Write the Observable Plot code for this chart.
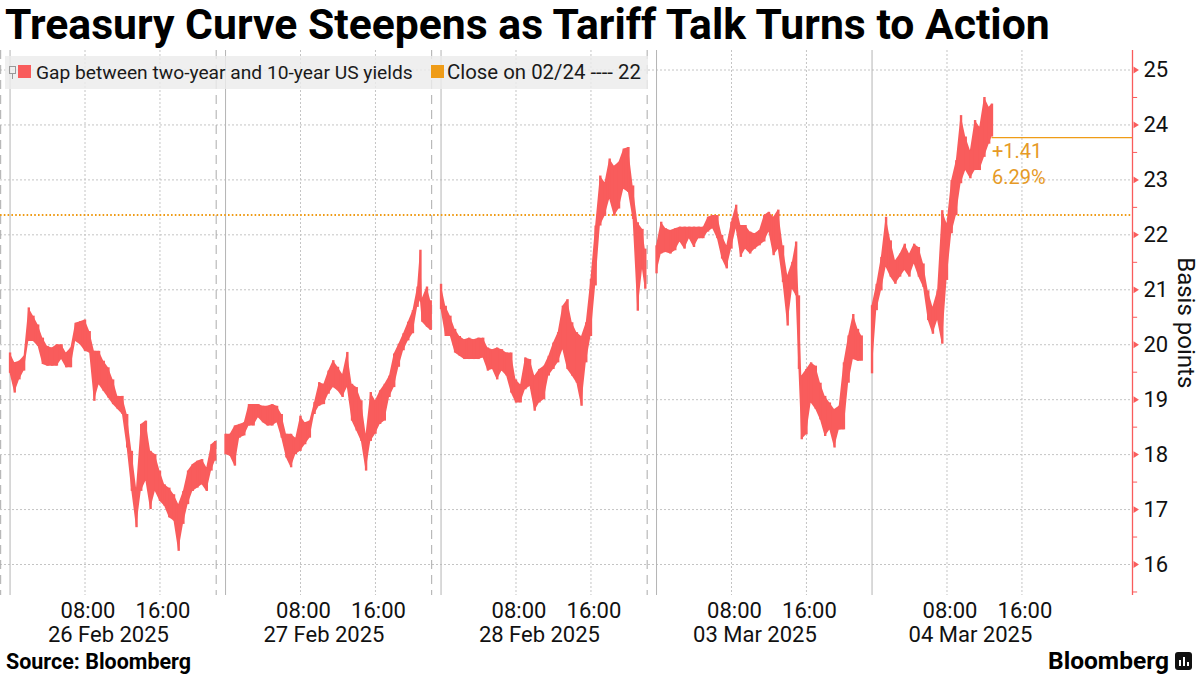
<!DOCTYPE html>
<html>
<head>
<meta charset="utf-8">
<script src="https://cdn.jsdelivr.net/npm/d3@7"></script>
<script src="https://cdn.jsdelivr.net/npm/@observablehq/plot@0.6"></script>
<style>
  html, body { margin: 0; padding: 0; background: #fff; }
  body { width: 1200px; height: 675px; overflow: hidden; position: relative; font-family: Roboto, "Noto Sans", sans-serif; color: #000; }
  .fit { display: inline-block; white-space: nowrap; }
  #title { position: absolute; left: 5px; top: 0px; line-height: 48px; font-weight: bold; font-size: 36px; }
  #chart { position: absolute; left: 0; top: 50px; }
  #legend { position: absolute; left: 5px; top: 56px; width: 643px; height: 33px; background: rgba(236,236,236,0.82); }
  #legend .sq { position: absolute; top: 9px; width: 13px; height: 13px; }
  #legend .txt { position: absolute; top: 0; line-height: 33px; font-size: 18px; color: #1a1a1a; }
  #legend .icon { position: absolute; left: 4px; top: 10px; width: 5px; height: 6px; border: 1px solid #999; }
  #legend .icon2 { position: absolute; left: 7px; top: 17px; width: 1px; height: 6px; background: #999; }
  #source { position: absolute; left: 6px; top: 651px; line-height: 22px; font-weight: bold; font-size: 17px; }
  #logo { position: absolute; left: 1048px; top: 647px; line-height: 28px; font-weight: bold; font-size: 24px; }
  #logoicon { position: absolute; left: 1175px; top: 652px; width: 17px; height: 18px; background: #111; border-radius: 3px; }
  #logoicon i { position: absolute; bottom: 4px; width: 2px; background: #fff; }
</style>
</head>
<body>
<div id="title" class="fit">Treasury Curve Steepens as Tariff Talk Turns to Action</div>
<div id="chart"></div>
<div id="legend">
  <span class="icon"></span><span class="icon2"></span>
  <span class="sq" style="left:13px;background:#f95c5c"></span>
  <span class="txt fit" id="leg1" style="left:31px">Gap between two-year and 10-year US yields</span>
  <span class="sq" style="left:426px;background:#ef9c17"></span>
  <span class="txt fit" id="leg2" style="left:442px">Close on 02/24 ---- 22</span>
</div>
<div id="source" class="fit">Source: Bloomberg</div>
<div id="logo" class="fit">Bloomberg</div>
<div id="logoicon"><i style="left:4px;height:6px"></i><i style="left:8px;height:9px"></i><i style="left:12px;height:4px"></i></div>

<script>
// ---- Data ----
// Each session: [London hour of day, low, high] of the 2s10s gap in basis points
const feb26 = [
  [0,19.48,19.85],[0.5,19.12,19.67],[1,19.36,19.70],[1.5,19.52,19.79],[2,20.06,20.67],[2.5,20.06,20.52],
  [3,19.97,20.36],[3.5,19.64,20.12],[4,19.61,19.97],[4.5,19.61,19.94],[5,19.61,20.0],[5.5,19.73,20.0],
  [6,19.58,19.85],[6.5,19.58,19.94],[7,20.06,20.39],[7.5,20.0,20.42],[8,19.88,20.45],[8.5,19.85,20.24],
  [9,18.97,19.88],[9.5,19.27,19.88],[10,19.15,19.70],[10.5,19.03,19.58],[11,18.91,19.36],[11.5,18.82,19.06],
  [12,18.73,19.06],[12.5,18.12,18.73],[13,17.33,18.06],[13.5,16.67,17.39],[14,17.33,18.55],[14.5,17.52,18.61],
  [15,17.0,18.06],[15.5,17.33,18.0],[16,17.15,17.70],[16.5,17.06,17.45],[17,16.85,17.39],[17.5,16.79,17.27],
  [18,16.24,17.09],[18.5,16.73,17.33],[19,17.09,17.70],[19.5,17.33,17.82],[20,17.39,17.88],[20.5,17.45,17.91],
  [21,17.33,17.76],[21.5,17.70,18.18],[21.9,17.88,18.24]
];
const feb27 = [
  [0,18.0,18.37],[0.5,17.97,18.37],[1,17.79,18.52],[1.5,18.30,18.55],[2,18.34,18.58],[2.5,18.52,18.91],
  [3,18.52,18.91],[3.5,18.67,18.91],[4,18.58,18.88],[4.5,18.52,18.88],[5,18.52,18.91],[5.5,18.58,18.88],
  [6,18.30,18.73],[6.5,17.94,18.37],[7,17.76,18.37],[7.5,18.0,18.30],[8,18.06,18.70],[8.5,18.18,18.58],
  [9,18.30,18.61],[9.5,18.73,18.95],[10,18.88,19.31],[10.5,18.91,19.28],[11,19.10,19.52],[11.5,19.22,19.71],
  [12,19.16,19.59],[12.5,19.04,19.46],[13,19.22,19.86],[13.5,18.61,19.28],[14,18.43,19.22],[14.5,18.24,18.98],
  [15,17.70,18.37],[15.5,18.24,19.13],[16,18.37,18.98],[16.5,18.55,19.16],[17,18.61,19.28],[17.5,19.04,19.43],
  [18,19.22,19.83],[18.5,19.59,20.01],[19,19.89,20.20],[19.5,20.07,20.41],[20,20.20,20.62],[20.5,20.68,21.05],
  [20.8,20.80,21.72],[21,20.41,20.84],[21.5,20.32,21.05],[21.9,20.26,20.80]
];
const feb28 = [
  [0,20.64,21.10],[0.5,20.15,20.70],[1,20.15,20.52],[1.5,19.85,20.28],[2,19.79,20.15],[2.5,19.73,20.09],
  [3,19.73,20.12],[3.5,19.73,20.09],[4,19.73,20.12],[4.5,19.76,20.12],[5,19.52,19.94],[5.5,19.55,19.91],
  [6,19.36,19.94],[6.5,19.52,19.91],[7,19.43,19.85],[7.5,19.12,19.85],[8,18.94,19.36],[8.5,18.94,19.27],
  [9,19.18,19.76],[9.5,19.24,19.73],[10,18.79,19.43],[10.5,18.94,19.55],[11,19.0,19.61],[11.5,19.43,19.79],
  [12,19.55,20.03],[12.5,19.67,20.22],[13,19.91,20.70],[13.5,19.55,20.82],[14,19.43,20.40],[14.5,19.30,20.22],
  [15,18.88,20.15],[15.5,19.67,20.40],[16,20.15,21.19],[16.5,21.07,22.16],[17,22.16,23.07],[17.5,22.34,22.95],
  [18,22.65,23.38],[18.5,22.34,23.25],[19,22.47,23.32],[19.5,22.83,23.56],[20,22.77,23.59],[20.5,22.28,22.89],
  [21,20.61,22.22],[21.5,21.37,22.10],[21.8,21.01,21.74]
];
const mar03 = [
  [0,21.29,21.80],[0.5,21.65,22.23],[1,21.68,22.11],[1.5,21.65,22.08],[2,21.71,22.11],[2.5,21.87,22.14],
  [3,21.74,22.14],[3.5,21.93,22.14],[4,21.77,22.14],[4.5,21.93,22.14],[5,21.93,22.14],[5.5,22.05,22.32],
  [6,22.11,22.35],[6.5,21.93,22.35],[7,21.56,21.99],[7.5,21.38,21.80],[8,21.74,22.23],[8.5,22.11,22.54],
  [9,21.59,22.17],[9.5,21.74,22.17],[10,21.65,22.05],[10.5,21.74,22.02],[11,21.80,22.08],[11.5,21.87,22.35],
  [12,22.05,22.41],[12.5,21.62,22.32],[13,21.74,22.45],[13.5,21.13,21.80],[14,20.34,21.26],[14.5,21.01,21.50],
  [14.9,20.89,21.87],[15.2,19.55,20.89],[15.5,18.27,19.43],[16,18.36,19.55],[16.5,18.94,19.67],[17,18.82,19.61],
  [17.5,18.63,19.30],[18,18.33,19.06],[18.5,18.45,18.94],[19,18.12,18.82],[19.5,18.45,18.88],[20,18.45,19.67],
  [20.5,19.30,20.16],[21,19.73,20.55],[21.5,19.70,20.28],[21.9,19.70,20.16]
];
const mar04 = [
  [0,19.47,20.71],[0.5,20.62,21.10],[1,20.98,21.59],[1.5,21.41,22.32],[2,21.23,21.89],[2.5,21.10,21.53],
  [3,21.23,21.65],[3.5,21.35,21.83],[4,21.23,21.65],[4.5,21.47,21.83],[5,21.23,21.77],[5.5,21.04,21.47],
  [6,20.44,20.98],[6.5,20.19,20.68],[7,20.44,20.98],[7.5,20.01,22.44],[8,21.17,22.20],[8.5,22.02,22.99],
  [9,22.35,23.35],[9.5,22.93,24.17],[10,23.17,23.78],[10.5,23.02,23.53],[11,23.17,24.08],[11.5,23.17,23.96],
  [12,23.41,24.50],[12.5,23.65,24.32],[12.8,23.78,24.38]
];
const sessionDates = ["26 Feb 2025", "27 Feb 2025", "28 Feb 2025", "03 Mar 2025", "04 Mar 2025"];
const timeTickHours = [8, 16];
const timeTickLabels = ["08:00", "16:00"];
const yTicks = [16, 17, 18, 19, 20, 21, 22, 23, 24, 25];
const yHalfTicks = [15.5, 16.5, 17.5, 18.5, 19.5, 20.5, 21.5, 22.5, 23.5, 24.5];
const closeOn0224 = 22.36;
const lastValue = 23.77;
const changeLabels = ["+1.41", "6.29%"];

// ---- Build ----
const RED = "#f95c5c", ORANGE = "#ef9c17", ORANGE_TXT = "#e69a26";
const SESSION = 23; // trading hours per session shown (22:00-23:00 London break removed)
const sessions = [feb26, feb27, feb28, mar03, mar04];
const rows = sessions.flatMap((s, d) => s.map(([h, lo, hi]) => ({d, t: d * SESSION + h, lo, hi})));
const lastT = rows[rows.length - 1].t;
const X0 = -1.02, X1 = 119.8;
const Y0 = 15.436, Y1 = 25.355;
const ticks = sessionDates.flatMap((_, d) => timeTickHours.map((h, i) => ({t: d * SESSION + h, label: timeTickLabels[i]})));
const dateTicks = sessionDates.map((label, d) => ({t: d * SESSION + 10.5, label}));
const midnights = sessionDates.map((_, d) => d * SESSION);
const breaks = sessionDates.slice(0, 4).map((_, d) => d * SESSION - 1);

const arrow = { draw(ctx, size) { const r = Math.sqrt(size) * 0.6; ctx.moveTo(0, -r); ctx.lineTo(r * 1.6, 0); ctx.lineTo(0, r); ctx.closePath(); } };

const chart = Plot.plot({
  width: 1200, height: 600,
  marginLeft: 0, marginRight: 68, marginTop: 0, marginBottom: 55,
  style: {fontFamily: "Roboto, sans-serif", background: "transparent", overflow: "visible"},
  x: {type: "linear", domain: [X0, X1], axis: null},
  y: {domain: [Y0, Y1], axis: null},
  marks: [
    Plot.ruleY(yTicks, {stroke: "#c4c4c4", strokeDasharray: "2,2"}),
    Plot.ruleX(ticks, {x: "t", stroke: "#c4c4c4", strokeDasharray: "2,2"}),
    Plot.ruleX(breaks, {stroke: "#ababab", strokeDasharray: "9,6"}),
    Plot.ruleX(midnights, {stroke: "#b4b4b4"}),
    Plot.ruleY([closeOn0224], {stroke: ORANGE, strokeWidth: 2, strokeDasharray: "1.6,2.2"}),
    Plot.areaY(rows, {x: "t", y1: "lo", y2: "hi", z: "d", fill: RED, curve: "linear"}),
    Plot.ruleX(rows, {x: "t", y1: "lo", y2: "hi", stroke: RED, strokeWidth: 2.4}),
    Plot.ruleY([lastValue], {x1: lastT, x2: X1, stroke: ORANGE, strokeWidth: 1.2}),
    Plot.text([changeLabels[0]], {x: lastT, y: lastValue, dy: 14, dx: 0, text: d => d, textAnchor: "start", fill: ORANGE_TXT, fontSize: 20}),
    Plot.text([changeLabels[1]], {x: lastT, y: lastValue, dy: 40, dx: 0, text: d => d, textAnchor: "start", fill: ORANGE_TXT, fontSize: 20}),
    // right axis
    Plot.ruleX([X1], {stroke: RED, strokeWidth: 1.3}),
    Plot.ruleY(yHalfTicks, {x1: X1, x2: X1 + 0.55, stroke: RED}),
    Plot.dot(yTicks, {x: X1, y: d => d, symbol: arrow, r: 3.2, fill: RED, stroke: null, dx: 1}),
    Plot.text(yTicks, {x: X1, y: d => d, text: d => String(d), dx: 11, textAnchor: "start", fill: "#111", fontSize: 22}),
    Plot.text(["Basis points"], {x: X1, y: 20.4, dx: 53, rotate: 90, text: d => d, fill: "#111", fontSize: 24}),
    // bottom axis
    Plot.text(ticks, {x: "t", y: Y0, text: "label", dx: 3, dy: 15, fill: "#111", fontSize: 22}),
    Plot.text(dateTicks, {x: "t", y: Y0, text: "label", dy: 39, fill: "#111", fontSize: 22})
  ]
});
document.getElementById("chart").appendChild(chart);

// fit text widths to the reference layout
function fit(id, target) {
  const el = document.getElementById(id);
  const w = el.getBoundingClientRect().width;
  const fs = parseFloat(getComputedStyle(el).fontSize);
  el.style.fontSize = (fs * target / w).toFixed(2) + "px";
}
fit("title", 1045);
fit("leg1", 377);
fit("leg2", 194);
fit("source", 185);
fit("logo", 121);
</script>
</body>
</html>
